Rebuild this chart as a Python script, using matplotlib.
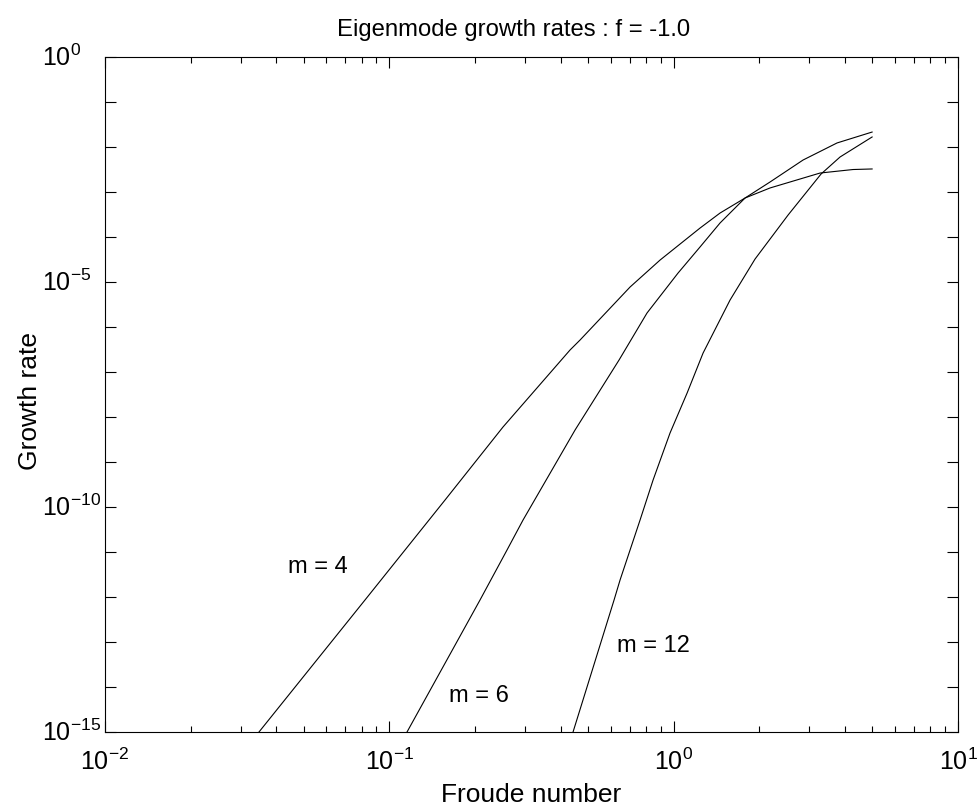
import matplotlib
matplotlib.use("Agg")
import matplotlib.pyplot as plt
import matplotlib.ticker as mticker
from matplotlib.transforms import ScaledTranslation

plt.rcParams['font.family'] = ['Liberation Sans', 'DejaVu Sans']
plt.rcParams['mathtext.fontset'] = 'custom'
plt.rcParams['mathtext.rm'] = 'Liberation Sans'
plt.rcParams['mathtext.it'] = 'Liberation Sans'
plt.rcParams['mathtext.bf'] = 'Liberation Sans'
plt.rcParams['mathtext.default'] = 'regular'

# ---- data ----
froude_m4 = [0.0348, 0.0821, 0.1570, 0.2511, 0.432, 0.4686, 0.7026, 0.896, 1.238, 1.456,
             1.783, 2.183, 3.273, 4.276, 4.988]
growth_m4 = [1.0e-15, 8.57e-13, 1.43e-10, 6.0e-9, 3.08e-7, 5.14e-7, 7.74e-6, 3.08e-5, 1.58e-4, 3.41e-4,
             7.36e-4, 1.23e-3, 2.64e-3, 3.16e-3, 3.25e-3]

froude_m6 = [0.1154, 0.2084, 0.2594, 0.2953, 0.450, 0.6427, 0.806, 1.036, 1.238, 1.456,
             1.783, 2.183, 2.852, 3.755, 4.988]
growth_m6 = [1.0e-15, 8.57e-13, 1.11e-11, 5.14e-11, 5.14e-9, 1.85e-7, 2.05e-6, 1.58e-5, 6.0e-5, 2.05e-4,
             7.36e-4, 1.67e-3, 5.14e-3, 1.23e-2, 2.15e-2]

froude_m12 = [0.4427, 0.6171, 0.6479, 0.7618, 0.8465, 0.971, 1.115, 1.269, 1.579, 1.933,
              2.526, 3.299, 3.848, 4.988]
growth_m12 = [1.0e-15, 8.57e-13, 2.39e-12, 5.14e-11, 3.98e-10, 4.41e-9, 3.41e-8, 2.64e-7, 3.98e-6, 3.24e-5,
              3.08e-4, 2.51e-3, 6.0e-3, 1.67e-2]

curve_labels = ["m = 4", "m = 6", "m = 12"]
label_x = [0.0561, 0.207, 0.846]
label_y = [4.7e-12, 6.3e-15, 8.1e-14]

x_ticks = [1e-2, 1e-1, 1e0, 1e1]
x_ticklabels = ["$10^{-2}$", "$10^{-1}$", "$10^{0}$", "$10^{1}$"]
y_exponents = list(range(-15, 1))
y_labelled = {0: "$10^{0}$", -5: "$10^{-5}$", -10: "$10^{-10}$", -15: "$10^{-15}$"}

title = "Eigenmode growth rates : f = -1.0"
xlabel = "Froude number"
ylabel = "Growth rate"

# ---- figure ----
fig = plt.figure(figsize=(9.78, 8.09), dpi=100)
ax = fig.add_axes([105/978, 1 - 732/809, (958 - 105)/978, (732 - 57)/809])

for xs, ys in [(froude_m4, growth_m4), (froude_m6, growth_m6), (froude_m12, growth_m12)]:
    ax.plot(xs, ys, color='black', lw=0.8)

ax.set_xscale('log')
ax.set_yscale('log')
ax.set_xlim(1e-2, 1e1)
ax.set_ylim(1e-15, 1e0)

for txt, lx, ly in zip(curve_labels, label_x, label_y):
    ax.text(lx, ly, txt, fontsize=17, ha='center', va='center')

ax.set_xticks(x_ticks, labels=x_ticklabels)
ax.xaxis.set_minor_locator(mticker.LogLocator(base=10, subs=range(2, 10), numticks=50))
ax.xaxis.set_minor_formatter(mticker.NullFormatter())

y_ticks = [10.0 ** e for e in y_exponents]
y_ticklabels = [y_labelled.get(e, "") for e in y_exponents]
ax.set_yticks(y_ticks, labels=y_ticklabels)
ax.yaxis.set_minor_locator(mticker.NullLocator())

ax.tick_params(which='both', direction='in', top=True, right=True, width=0.8, color='black')
ax.tick_params(which='major', length=8, labelsize=18)
ax.tick_params(axis='x', which='major', pad=12)
ax.tick_params(which='minor', length=4)
ax.tick_params(axis='y', which='major', pad=45)

offset = ScaledTranslation(0, -9 / 100, fig.dpi_scale_trans)
for lbl in ax.get_yticklabels():
    lbl.set_horizontalalignment('left')
    lbl.set_verticalalignment('baseline')
    lbl.set_transform(lbl.get_transform() + offset)

for sp in ax.spines.values():
    sp.set_linewidth(0.8)

ax.set_title(title, fontsize=17.2, pad=15, x=(514 - 105) / 853)
ax.set_xlabel(xlabel, fontsize=19, labelpad=6)
ax.set_ylabel(ylabel, fontsize=19)
ax.yaxis.set_label_coords(-63 / 853, 0.49)

fig.savefig("out.png", dpi=100)
